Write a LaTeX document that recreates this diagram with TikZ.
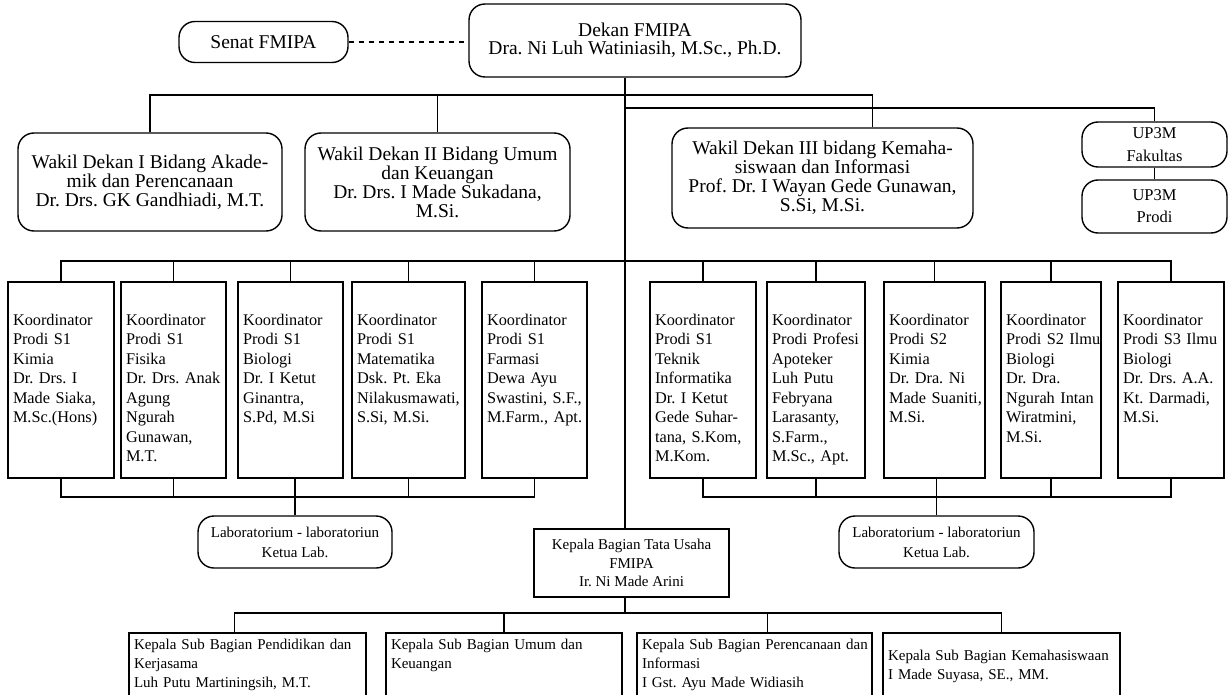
\documentclass[tikz,border=0pt]{standalone}
\usepackage{fontspec}
\setmainfont{Liberation Serif}
\usetikzlibrary{positioning,calc}
\tikzset{
  rbox/.style={draw, rounded corners=16pt, align=center, line width=1.4pt, inner sep=0pt},
  kbox/.style={draw, align=left, text width=#1, line width=1.4pt, inner xsep=5pt, inner ysep=0pt,
               text height=43pt, text depth=153pt, font={\fontsize{16.3}{19.5}\selectfont}},
  sbox/.style={draw, align=left, text width=#1, line width=1.4pt, inner xsep=5pt, inner ysep=0pt,
               font={\fontsize{15}{19}\selectfont}},
  link/.style={line width=1.4pt},
}

\begin{document}
\frenchspacing
\begin{tikzpicture}[x=1pt, y=-1pt]
  \useasboundingbox (0,0) rectangle (1228,695);
  % pimpinan
  \node[rbox, minimum width=169pt, minimum height=41pt, font={\fontsize{19.5}{19}\selectfont}] (senat) at (263.5,42) {Senat FMIPA};
  \node[rbox, minimum width=332pt, minimum height=73pt, font={\fontsize{19.5}{18}\selectfont}] (dekan) at (635,40.5)
    {Dekan FMIPA\\Dra. Ni Luh Watiniasih, M.Sc., Ph.D.};
  \node[rbox, minimum width=264pt, minimum height=98pt, font={\fontsize{19.5}{19}\selectfont}] (wk1) at (150,182)
    {Wakil Dekan I Bidang Akade-\\mik dan Perencanaan\\Dr. Drs. GK Gandhiadi, M.T.};
  \node[rbox, minimum width=265pt, minimum height=98pt, font={\fontsize{19.5}{19}\selectfont}] (wk2) at (437.5,182)
    {Wakil Dekan II Bidang Umum\\dan Keuangan\\Dr. Drs. I Made Sukadana,\\M.Si.};
  \node[rbox, minimum width=301pt, minimum height=100pt, font={\fontsize{19.5}{19}\selectfont}] (wk3) at (822.5,178)
    {Wakil Dekan III bidang Kemaha-\\siswaan dan Informasi\\Prof. Dr. I Wayan Gede Gunawan,\\S.Si, M.Si.};
  \node[rbox, minimum width=145pt, minimum height=45pt, font={\fontsize{16.5}{23}\selectfont}] (upf) at (1154.5,144.5) {UP3M\\Fakultas};
  \node[rbox, minimum width=145pt, minimum height=53pt, font={\fontsize{16.5}{22}\selectfont}] (upp) at (1154.5,206.5) {UP3M\\Prodi};

  % koordinator prodi
  \node[kbox=96pt] (k1) at (61,380) {Koordinator\\Prodi S1\\Kimia\\Dr. Drs. I\\Made Siaka,\\M.Sc.(Hons)};
  \node[kbox=95pt] (k2) at (173.5,380) {Koordinator\\Prodi S1\\Fisika\\Dr.~Drs.~Anak\\Agung\\Ngurah\\Gunawan,\\M.T.};
  \node[kbox=95pt] (k3) at (290.5,380) {Koordinator\\Prodi S1\\Biologi\\Dr. I Ketut\\Ginantra,\\S.Pd, M.Si};
  \node[kbox=103pt] (k4) at (408.5,380) {Koordinator\\Prodi S1\\Matematika\\Dsk. Pt. Eka\\Nilakusmawati,\\S.Si, M.Si.};
  \node[kbox=95pt] (k5) at (534.5,380) {Koordinator\\Prodi S1\\Farmasi\\Dewa Ayu\\Swastini,~S.F.,\\M.Farm.,~Apt.};
  \node[kbox=96pt] (k6) at (703,380) {Koordinator\\Prodi S1\\Teknik\\Informatika\\Dr. I Ketut\\Gede Suhar-\\tana, S.Kom,\\M.Kom.};
  \node[kbox=88pt] (k7) at (816,380) {Koordinator\\Prodi~Profesi\\Apoteker\\Luh Putu\\Febryana\\Larasanty,\\S.Farm.,\\M.Sc., Apt.};
  \node[kbox=91pt] (k8) at (934.5,380) {Koordinator\\Prodi S2\\Kimia\\Dr. Dra. Ni\\Made~Suaniti,\\M.Si.};
  \node[kbox=90pt] (k9) at (1051,380) {Koordinator\\Prodi~S2~Ilmu\\Biologi\\Dr. Dra.\\Ngurah~Intan\\Wiratmini,\\M.Si.};
  \node[kbox=96pt] (k10) at (1171,380) {Koordinator\\Prodi~S3~Ilmu\\Biologi\\Dr.~Drs.~A.A.\\Kt. Darmadi,\\M.Si.};

  % laboratorium dan tata usaha
  \node[rbox, minimum width=194pt, minimum height=52pt, font={\fontsize{15}{20}\selectfont}] (lab1) at (295,542)
    {Laboratorium - laboratoriun\\Ketua Lab.};
  \node[rbox, minimum width=195pt, minimum height=52pt, font={\fontsize{15}{20}\selectfont}] (lab2) at (936.5,542)
    {Laboratorium - laboratoriun\\Ketua Lab.};
  \node[draw, line width=1.4pt, align=center, inner sep=0pt, minimum width=195pt, minimum height=68pt,
        font={\fontsize{15}{18.5}\selectfont}] (kb) at (631.5,563)
    {Kepala Bagian Tata Usaha\\FMIPA\\Ir. Ni Made Arini};

  \node[sbox=227pt, text height=16pt, text depth=49pt] (sb1) at (247.5,665.5)
    {\mbox{Kepala Sub Bagian Pendidikan dan}\\Kerjasama\\Luh Putu Martiningsih, M.T.};
  \node[sbox=226pt, text height=16pt, text depth=49pt] (sb2) at (504,665.5)
    {Kepala Sub Bagian Umum dan\\Keuangan};
  \node[sbox=225pt, text height=16pt, text depth=49pt] (sb3) at (754.5,665.5)
    {\mbox{Kepala Sub Bagian Perencanaan dan}\\Informasi\\I Gst. Ayu Made Widiasih};
  \node[sbox=227pt, text height=27pt, text depth=38pt] (sb4) at (1001.5,665.5)
    {Kepala Sub Bagian Kemahasiswaan\\I Made Suyasa, SE., MM.};

  % garis
  \coordinate (trunk) at ([xshift=-10pt]dekan.south);
  \coordinate (bus1) at (0,95);
  \coordinate (bus2) at (0,108);
  \coordinate (kbus) at (0,261);
  \coordinate (lbus) at (0,497);
  \coordinate (sbus) at (0,613);
  \coordinate (w3in) at ([xshift=50pt]wk3.north);
  \coordinate (s1in) at ([xshift=-13pt]sb1.north);
  \coordinate (s3in) at ([xshift=13pt]sb3.north);

  \draw[link, dash pattern=on 5pt off 5pt, line width=2.2pt] (senat.east) -- (senat.east -| dekan.west);
  \draw[link] (trunk) -- (kb.north -| trunk);
  \draw[link] (wk1.north) |- (bus1 -| w3in) -- (w3in);
  \draw[link] (wk2.north) -- (wk2.north |- bus1);
  \draw[link] (bus2 -| trunk) -| (upf.north);
  \draw[link] (upf) -- (upp);

  \draw[link] (k1.north) |- (kbus -| k10.north) -- (k10.north);
  \foreach \k in {k2,k3,k4,k5,k6,k7,k8,k9}
    \draw[link] (\k.north) -- (\k.north |- kbus);

  \draw[link] (k1.south) |- (lbus -| k5.south) -- (k5.south);
  \foreach \k in {k2,k4}
    \draw[link] (\k.south) -- (\k.south |- lbus);
  \draw[link] (lab1.north) -- (lab1.north |- k3.south);
  \draw[link] (k6.south) |- (lbus -| k10.south) -- (k10.south);
  \foreach \k in {k7,k9}
    \draw[link] (\k.south) -- (\k.south |- lbus);
  \draw[link] (lab2.north) -- (lab2.north |- k8.south);

  \draw[link] (kb.south -| trunk) -- (sbus -| trunk);
  \draw[link] (s1in) |- (sbus -| sb4.north) -- (sb4.north);
  \draw[link] (sb2.north) -- (sb2.north |- sbus);
  \draw[link] (s3in) -- (s3in |- sbus);
\end{tikzpicture}
\end{document}
